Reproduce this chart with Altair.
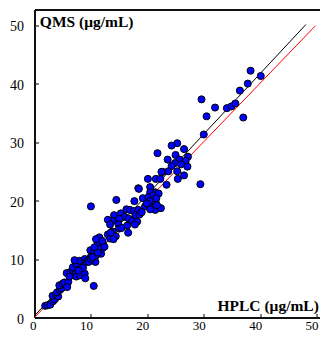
import altair as alt
import pandas as pd

# HPLC (x) and QMS (y) values
hplc = [1.9, 2.3, 2.8, 3.3, 3.6, 3.2, 3.8, 4.2, 4.0, 4.5, 4.8, 4.4, 5.0, 5.6, 5.3, 6.0, 5.8,
        5.7, 6.4, 6.8, 7.3, 7.4, 8.0, 8.9, 9.0, 6.8, 7.4, 8.3, 8.6, 8.0, 7.1, 8.9, 9.2, 9.5,
        10.0, 9.9, 10.6, 11.2, 10.9, 11.8, 12.1, 11.5, 10.5, 10.0, 9.6, 10.8, 10.0, 6.2, 7.8,
        14.5, 17.7, 19.6, 21.1, 21.4, 20.5, 16.3, 16.9, 17.6, 18.4, 17.9, 18.6, 14.1, 15.3,
        16.0, 15.0, 16.7, 17.3, 18.2, 13.8, 13.0, 13.4, 14.9, 15.0, 16.4, 17.8, 16.6, 13.8,
        13.0, 14.4, 13.4, 11.5, 11.2, 12.1, 12.4, 11.2, 15.4, 13.5, 14.0, 12.0, 10.9, 10.6,
        10.3, 19.0,
        30.0, 25.3, 24.3, 26.5, 21.8, 25.0, 23.6, 25.7, 27.2, 26.8, 24.9, 24.3, 26.0, 27.1,
        25.3, 22.7, 23.7, 26.5, 25.4, 20.1, 21.5, 22.3, 23.4, 18.4, 20.5, 21.4, 20.5, 19.2,
        20.2, 21.1, 22.0, 29.4, 20.5, 21.5, 19.9, 22.4, 21.7, 21.6, 22.5, 18.5,
        38.3, 40.1, 37.8, 36.4, 29.6, 32.0, 34.1, 34.9, 35.6, 30.5, 37.0]
qms = [2.0, 2.1, 2.2, 2.8, 3.1, 3.7, 3.9, 3.6, 4.3, 4.7, 5.0, 5.5, 5.8, 5.6, 6.0, 6.1, 5.2,
       7.6, 7.8, 8.1, 7.5, 7.0, 7.2, 7.5, 6.7, 8.6, 9.2, 8.9, 8.5, 9.7, 9.8, 10.0, 9.5, 9.8,
       10.4, 11.5, 11.3, 11.4, 10.6, 10.9, 11.9, 12.1, 5.4, 19.0, 9.5, 9.5, 10.0, 7.0, 8.0,
       20.1, 19.9, 19.0, 19.3, 18.4, 18.5, 18.5, 18.4, 18.2, 18.4, 17.5, 17.6, 17.5, 17.8,
       17.2, 16.9, 16.9, 16.5, 16.4, 16.5, 16.7, 15.9, 15.9, 15.2, 15.7, 15.9, 14.5, 14.7,
       14.2, 13.9, 13.5, 13.7, 12.8, 12.8, 12.1, 11.1, 15.3, 14.5, 13.4, 13.1, 13.4, 12.0,
       10.3, 18.0,
       31.3, 29.8, 29.4, 28.8, 28.1, 27.8, 27.0, 27.0, 27.5, 26.8, 26.4, 25.9, 26.2, 25.8,
       25.0, 24.9, 25.0, 24.3, 23.7, 23.7, 23.7, 23.7, 22.7, 22.1, 22.3, 21.4, 21.4, 20.4,
       20.6, 20.9, 21.2, 22.8, 19.9, 19.6, 19.5, 18.7, 19.2, 20.4, 24.9, 22.0,
       42.2, 41.3, 40.0, 38.8, 37.3, 35.9, 35.8, 36.1, 36.6, 34.4, 34.2]

# reference lines
black_x = [0.0, 48.1]
black_y = [0.3, 50.1]
red_x = [0.0, 49.8]
red_y = [0.0, 49.9]

tick_values = [0, 10, 20, 30, 40, 50]
inner_ticks = [10, 20, 30, 40, 50]

x_label = "HPLC (μg/mL)"
y_label = "QMS (μg/mL)"

X_DOMAIN = [0, 50.6]
Y_DOMAIN = [0, 52.67]
FONT = "Liberation Serif"
AX = "#111111"

pts = pd.DataFrame({"hplc": hplc, "qms": qms})
lines = pd.DataFrame({
    "hplc": black_x + red_x,
    "qms": black_y + red_y,
    "series": ["black", "black", "red", "red"],
})
ylab = pd.DataFrame({"hplc": [0.95], "qms": [49.7], "text": [y_label]})
xlab = pd.DataFrame({"hplc": [50.4], "qms": [1.1], "text": [x_label]})

xs = alt.Scale(domain=X_DOMAIN, nice=False, zero=False)
ys = alt.Scale(domain=Y_DOMAIN, nice=False, zero=False)

line_layer = alt.Chart(lines).mark_line(strokeWidth=1).encode(
    x=alt.X("hplc:Q", scale=xs,
            axis=alt.Axis(orient="bottom", offset=-4, tickSize=4, labels=False, domain=False,
                          grid=False, values=inner_ticks, tickColor="black", tickWidth=1,
                          title=None)),
    y=alt.Y("qms:Q", scale=ys,
            axis=alt.Axis(orient="left", offset=-4, tickSize=4, labels=False, domain=False,
                          grid=False, values=inner_ticks, tickColor="black", tickWidth=1,
                          title=None)),
    color=alt.Color("series:N", scale=alt.Scale(domain=["black", "red"],
                                                range=["#000000", "#ff0000"]), legend=None),
    detail="series:N",
)

point_layer = alt.Chart(pts).mark_point(
    shape="circle", filled=True, fill="#0000ff", stroke="#000000", strokeWidth=1,
    size=50, opacity=1,
).encode(
    x=alt.X("hplc:Q", scale=xs,
            axis=alt.Axis(orient="bottom", values=tick_values, tickSize=0, domain=True,
                          domainColor=AX, domainWidth=2,
                          grid=False, labelFont=FONT, labelFontSize=13, labelColor="black",
                          labelPadding=2, labelOffset=-5, title=None)),
    y=alt.Y("qms:Q", scale=ys,
            axis=alt.Axis(orient="left", values=tick_values, tickSize=0, domain=True,
                          domainColor=AX, domainWidth=2,
                          grid=False, labelFont=FONT, labelFontSize=14, labelColor="black",
                          labelPadding=11, labelOffset=1.5, title=None)),
)

ytext = alt.Chart(ylab).mark_text(
    font=FONT, fontSize=15.5, fontWeight="bold", color="black", baseline="alphabetic",
    align="left",
).encode(
    x=alt.X("hplc:Q", scale=xs,
            axis=alt.Axis(orient="top", labels=False, ticks=False, domain=True,
                          domainColor=AX, domainWidth=2, grid=False, title=None)),
    y=alt.Y("qms:Q", scale=ys, axis=None),
    text="text:N",
)

xtext = alt.Chart(xlab).mark_text(
    font=FONT, fontSize=15.5, fontWeight="bold", color="black", baseline="alphabetic",
    align="right",
).encode(
    x=alt.X("hplc:Q", scale=xs, axis=None),
    y=alt.Y("qms:Q", scale=ys, axis=None),
    text="text:N",
)

chart = alt.layer(line_layer, point_layer, ytext, xtext).resolve_axis(
    x="independent", y="independent"
).properties(
    width=285.5,
    height=308,
    autosize=alt.AutoSizeParams(type="none"),
    padding={"left": 26.5, "top": 1.5, "right": 0, "bottom": 17.5},
    background="white",
).configure_view(stroke=None)

chart.save("out.html", embed_options={"renderer": "svg", "actions": False})
